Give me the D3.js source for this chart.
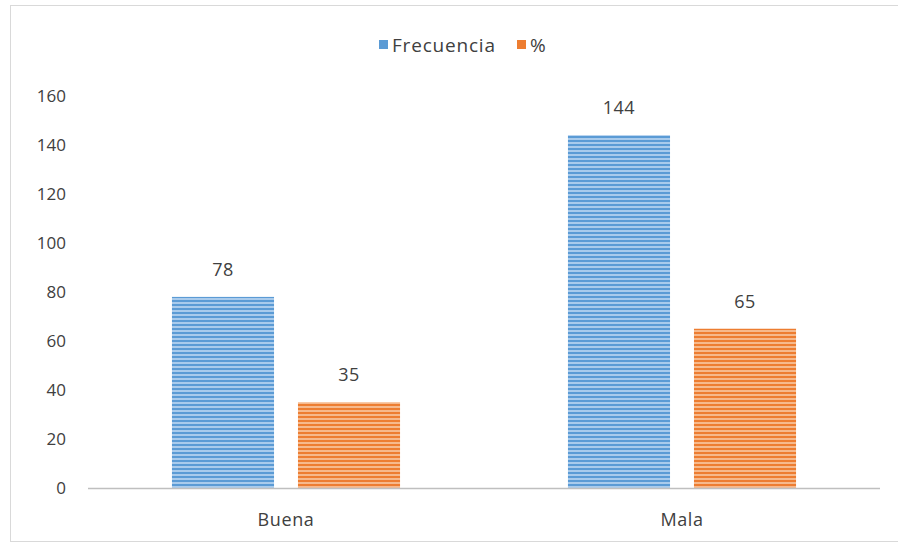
<!DOCTYPE html>
<html>
<head>
<meta charset="utf-8">
<script src="https://cdn.jsdelivr.net/npm/d3@7"></script>
<style>
  html, body { margin: 0; padding: 0; background: #fff; }
  svg { display: block; font-family: "Open Sans", "DejaVu Sans", sans-serif; }
</style>
</head>
<body>
<svg id="chart" width="898" height="544"></svg>
<script>
// Categories, series and values
const categories = ["Buena", "Mala"];
const seriesNames = ["Frecuencia", "%"];
const frecuencia = [78, 144];
const porcentaje = [35, 65];
const yTicks = [0, 20, 40, 60, 80, 100, 120, 140, 160];

const seriesValues = [frecuencia, porcentaje];
const colors = { "Frecuencia": ["#5b9bd5", "#a9cbec"], "%": ["#ed7d31", "#f6b98c"] };

const svg = d3.select("#chart");
const W = 898, H = 544;
const plotBottom = 488;

// Chart area border
svg.append("rect")
  .attr("x", 10.5).attr("y", 5.5)
  .attr("width", W - 5).attr("height", H - 8)
  .attr("fill", "#fff").attr("stroke", "#d9d9d9").attr("stroke-width", 1);

// Striped fills for the bars
const defs = svg.append("defs");
seriesNames.forEach((s, i) => {
  const p = defs.append("pattern")
    .attr("id", "stripe" + i)
    .attr("patternUnits", "userSpaceOnUse")
    .attr("width", 8).attr("height", 4);
  p.append("rect").attr("width", 8).attr("height", 4).attr("fill", colors[s][1]);
  p.append("rect").attr("width", 8).attr("height", 2).attr("fill", colors[s][0]);
});

const x0 = d3.scaleBand()
  .domain(categories)
  .range([88, 880])
  .paddingInner(0.424)
  .paddingOuter(0.212);

const x1 = d3.scaleBand()
  .domain(seriesNames)
  .range([0, x0.bandwidth()])
  .paddingInner(0.19);

const y = d3.scaleLinear()
  .domain([0, 160])
  .range([plotBottom, 96]);

const textColor = "#404040";

// Y axis tick labels (no axis line)
const yAxis = d3.axisLeft(y).tickValues(yTicks).tickSize(0).tickPadding(0);
const gy = svg.append("g")
  .attr("transform", "translate(66,0)")
  .call(yAxis);
gy.select(".domain").remove();
gy.selectAll("text")
  .attr("fill", textColor)
  .style("font-size", "17px")
  .style("font-family", "'Open Sans', 'DejaVu Sans', sans-serif");

// Bars
const groups = svg.append("g").selectAll("g")
  .data(categories)
  .join("g")
  .attr("transform", d => `translate(${x0(d)},0)`);

groups.selectAll("rect")
  .data((c, ci) => seriesNames.map((s, si) => ({ s, si, v: seriesValues[si][ci] })))
  .join("rect")
  .attr("x", d => x1(d.s))
  .attr("y", d => y(d.v))
  .attr("width", x1.bandwidth())
  .attr("height", d => y(0) - y(d.v))
  .attr("fill", d => `url(#stripe${d.si})`);

// Value labels
groups.selectAll("text.val")
  .data((c, ci) => seriesNames.map((s, si) => ({ s, si, v: seriesValues[si][ci] })))
  .join("text")
  .attr("class", "val")
  .attr("x", d => x1(d.s) + x1.bandwidth() / 2)
  .attr("y", d => y(d.v) - 21)
  .attr("text-anchor", "middle")
  .attr("fill", textColor)
  .style("font-size", "18px")
  .style("letter-spacing", "0.5px")
  .text(d => d.v);

// X axis line and category labels
const xAxis = d3.axisBottom(x0).tickSize(0).tickPadding(0);
const gx = svg.append("g")
  .attr("transform", `translate(0,${plotBottom})`)
  .call(xAxis);
gx.select(".domain")
  .attr("d", "M88,0.5H880")
  .attr("stroke", "#bfbfbf")
  .attr("stroke-width", 1.5);
gx.selectAll("text")
  .attr("dy", "38px")
  .attr("fill", textColor)
  .style("font-size", "18px")
  .style("letter-spacing", "0.6px")
  .style("font-family", "'Open Sans', 'DejaVu Sans', sans-serif");

// Legend
const legend = svg.append("g").attr("transform", "translate(379,45)");
const legendX = [0, 138];
seriesNames.forEach((s, i) => {
  const g = legend.append("g").attr("transform", `translate(${legendX[i]},0)`);
  g.append("rect").attr("x", 0).attr("y", -5).attr("width", 9).attr("height", 9)
    .attr("fill", colors[s][0]);
  g.append("text").attr("x", 13).attr("y", 0).attr("dy", "0.35em")
    .attr("fill", textColor)
    .style("font-size", "19px")
    .style("letter-spacing", "0.8px")
    .text(s);
});
</script>
</body>
</html>
